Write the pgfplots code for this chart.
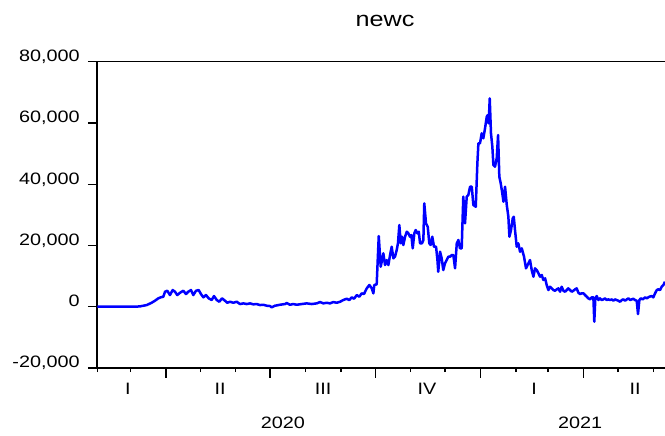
\documentclass[border=0pt]{standalone}
\usepackage{fontspec}
\setmainfont{Liberation Sans}[FakeStretch=1.2]
\usepackage{pgfplots}
\pgfplotsset{compat=1.18}
\usepackage{pgfplotstable}
\definecolor{evblue}{RGB}{0,0,255}
\pgfplotstableread{
day value
0 0
10 0
20 0
30 0
37.3 100
38.8 230
43.2 550
47.5 1300
50.4 1960
53.3 2740
55.4 3070
57.7 3270
59.2 4900
61.2 5220
63.5 3820
65.9 5450
67.9 4900
69.9 3820
72.3 4570
75.2 5220
77.5 4150
79.5 4900
81.9 5450
83.9 3820
86.3 5220
88.6 5450
90.6 4150
92.7 3070
95.0 3820
97.4 2740
100.0 2190
102.0 3490
104.4 2190
106.6 1630
109.0 2740
111.6 1960
113.6 1300
116.0 1630
118.9 1300
121.9 1630
124.7 880
127.6 1100
130.6 880
133.5 1100
136.4 780
139.3 880
142.2 550
145.1 650
148.1 330
151.0 230
152.4 -200
155.3 330
159.7 650
164.1 880
165.6 1200
168.4 650
171.3 880
174.3 650
178.7 880
183.0 1100
187.4 880
191.8 1100
194.7 1530
197.6 1100
200.5 1300
203.4 1100
206.3 1530
209.3 1300
212.2 1630
215.0 2190
218.0 2610
220.3 2190
222.4 3070
224.4 2610
226.8 3820
229.0 3270
231.1 4370
233.1 4150
235.5 6000
237.8 7090
239.9 6000
241.3 4370
242.1 7090
244.2 7310
246.0 23080
247.7 13060
248.9 15250
250.0 17430
251.5 13610
253.0 15250
254.4 13610
255.9 16880
257.3 19590
258.8 15800
260.2 16330
261.7 18510
262.8 20700
264.0 26680
265.2 20700
266.3 22860
267.5 20150
269.0 22860
270.5 24490
271.9 23960
273.3 22860
274.5 23400
275.7 19070
277.1 23960
278.3 25040
279.8 23960
281.0 24490
282.1 20700
283.8 20700
285.0 21780
285.8 33760
287.3 27230
288.8 26120
290.2 20700
291.4 20150
292.8 22860
294.3 19590
296.1 19590
297.3 15250
298.0 11430
299.6 17960
301.0 15800
302.4 11980
303.9 14170
305.4 15250
306.8 16330
308.3 16330
309.8 16880
311.2 16880
312.7 12540
314.2 20700
315.6 21780
317.0 19070
318.5 19070
319.9 35920
321.4 27230
322.9 35920
324.3 36470
325.8 39180
327.3 39180
328.7 33210
330.8 32650
332.2 46820
333.1 53350
334.5 53350
336.0 56620
337.4 54980
338.9 58250
340.4 62040
341.3 62590
342.1 59880
343.0 68040
344.1 56620
345.3 52240
346.2 46270
347.6 45710
349.1 48450
350.3 56060
351.4 42450
352.6 40290
353.8 37550
355.0 34280
356.4 39180
357.9 33210
359.3 29390
360.2 22860
361.6 25040
363.1 28860
364.0 29390
365.1 25040
366.6 19590
368.0 20700
369.5 17960
371.0 19070
373.0 16330
374.7 12540
376.8 14170
378.2 15250
379.7 11980
381.2 9800
382.6 12540
384.1 11980
385.6 10900
387.0 9800
388.5 10350
389.9 8720
391.4 9270
392.8 7090
394.3 5450
395.7 6530
397.2 6000
398.6 5450
400.1 5220
401.6 5680
403.0 6000
404.5 4900
405.9 6530
407.4 5220
408.8 4900
410.3 5450
411.7 6000
413.2 5450
414.7 4900
416.1 5220
417.6 5680
419.0 6000
420.5 4570
421.9 4150
423.4 4370
424.9 4370
426.3 3820
427.8 3270
429.2 2740
430.7 2400
432.1 3070
433.6 3070
434.4 -4900
435.3 2740
436.5 3490
438.0 2190
439.4 2740
440.9 2190
442.3 2400
443.8 2740
445.3 2190
446.7 2400
448.2 2190
449.7 2400
451.1 1960
452.5 2400
454.0 2190
455.4 1960
456.9 1630
458.4 2190
459.8 2400
461.3 1960
462.8 2400
464.2 2740
465.7 2190
467.1 2400
468.5 2610
470.0 2190
471.5 1960
472.6 -2380
473.8 2190
475.0 2740
476.7 2400
478.8 3070
480.2 2740
482.5 3270
484.6 3490
486.0 3070
487.5 4370
489.0 5450
490.4 5680
491.9 5450
493.3 6530
494.8 7090
496.2 8160
}\newc

\begin{document}
\begin{tikzpicture}
\useasboundingbox (0,0) rectangle (665bp,436bp);
\begin{axis}[
  at={(97.3bp,68bp)}, anchor=south west,
  scale only axis, width=567.7bp, height=306.3bp,
  xmin=0, xmax=496.2, ymin=-20000, ymax=80000,
  axis x line*=bottom, axis y line*=left,
  axis line style={-, line width=1.6bp, black},
  tick align=outside,
  major tick length=9.5bp, minor tick length=4bp,
  every tick/.style={black, line width=1.4bp},
  xtick={60,151,243,335,425},
  minor xtick={0,29,90,121,182,213,274,304,366,394,455,486},
  xticklabels={},
  ytick={-20000,0,20000,40000,60000,80000},
  yticklabels={{-20,000},{0},{20,000},{40,000},{60,000},{80,000}},
  scaled y ticks=false,
  yticklabel style={anchor=base east, inner sep=0pt, xshift=-8bp, font=\fontsize{16.5bp}{19bp}\selectfont},
  clip=false,
]
\addplot[evblue, line width=2.5bp, line join=round] table[x=day, y=value] {\newc};
\begin{scope}[font=\fontsize{16.5bp}{19bp}\selectfont]
\node[anchor=base] at (axis cs:26.8,-20000) [yshift=-27bp] {I};
\node[anchor=base] at (axis cs:107.3,-20000) [yshift=-27bp] {II};
\node[anchor=base] at (axis cs:197.3,-20000) [yshift=-27bp] {III};
\node[anchor=base] at (axis cs:288.2,-20000) [yshift=-27bp] {IV};
\node[anchor=base] at (axis cs:381.7,-20000) [yshift=-27bp] {I};
\node[anchor=base] at (axis cs:470,-20000) [yshift=-27bp] {II};
\node[anchor=base] at (axis cs:162.3,-20000) [yshift=-60.3bp] {2020};
\node[anchor=base] at (axis cs:422,-20000) [yshift=-60.3bp] {2021};
\end{scope}
\draw[line width=1.6bp, black] (rel axis cs:0,1) -- (rel axis cs:1,1);
\end{axis}
\node[anchor=base, font=\fontsize{21bp}{24bp}\selectfont] at (385bp,409.3bp) {newc};
\end{tikzpicture}
\end{document}
